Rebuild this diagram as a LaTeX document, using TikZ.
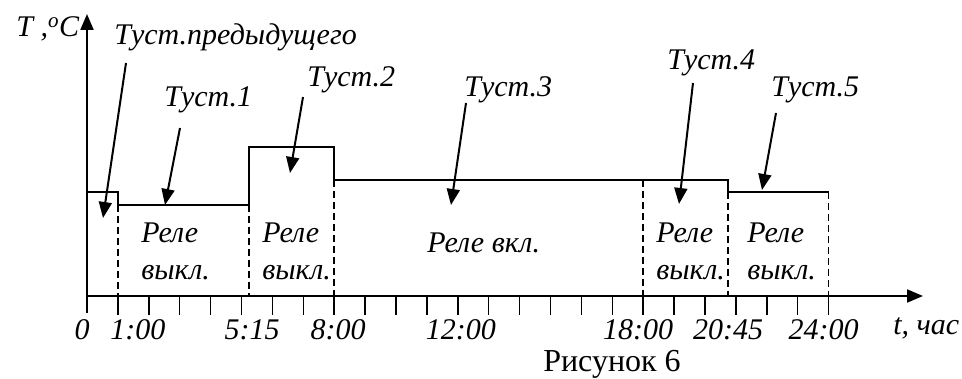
\documentclass[tikz,border=0pt]{standalone}
\usepackage{fontspec}
\setmainfont{Liberation Serif}
\usetikzlibrary{arrows.meta}
\newcommand*{\hr }{30.9}
\newcommand*{\xo }{87}
\newcommand*{\yo }{296}

\begin{document}
\begin{tikzpicture}[x=1pt, y=-1pt, line width=2pt,
    font=\itshape\fontsize{30}{36}\selectfont,
    tip/.style={-{Triangle[length=16pt,width=13pt]}}]
    \useasboundingbox (0,0) rectangle (962,379);
    % axes
    \draw [tip] (\xo,313) -- (\xo,14);
    \draw [tip] (\xo,\yo) -- (923,\yo);
    \foreach \h in {1,...,24}
        \draw [line width=1.5pt] (\xo+\h*\hr,\yo) -- (\xo+\h*\hr,315);
    % setpoint curve
    \draw (\xo,192) -- (\xo+\hr,192) -- (\xo+\hr,205) -- (\xo+5.25*\hr,205) -- (\xo+5.25*\hr,147)
        -- (\xo+8*\hr,147) -- (\xo+8*\hr,180) -- (\xo+20.75*\hr,180) -- (\xo+20.75*\hr,192) -- (\xo+24*\hr,192);
    \foreach \h/\y in {1/205, 5.25/205, 8/180, 18/180, 20.75/192, 24/192}
        \draw [line width=1.5pt, dash pattern=on 7pt off 4pt] (\xo+\h*\hr,\y) -- (\xo+\h*\hr,\yo);
    % time labels
    \foreach \h/\t/\s in {0/0/-5, 1/1:00/20, 5.25/5:15/3, 8/8:00/4, 12/12:00/3, 18/18:00/-5, 20.75/20:45/0, 24/24:00/-5}
        \node [anchor=base, inner sep=0pt] (h\h) at (\xo+\h*\hr+\s,340) {\t};
    \node [anchor=base west] (tl) at (889,335) {t, час};
    \node [anchor=base west] (Tl) at (12,37) {T ,\textsuperscript{o}C};
    % setpoint labels
    \node [anchor=base west] (s0) at (110,45) {Tуст.предыдущего};
    \node [anchor=base west] (s1) at (160,107) {Tуст.1};
    \node [anchor=base west] (s2) at (303,87) {Tуст.2};
    \node [anchor=base west] (s3) at (460,97) {Tуст.3};
    \node [anchor=base west] (s4) at (663,70) {Tуст.4};
    \node [anchor=base west] (s5) at (767,97) {Tуст.5};
    \coordinate (a0) at (126,63);  \coordinate (b0) at (103,218);
    \coordinate (a1) at (180,128); \coordinate (b1) at (165,205);
    \coordinate (a2) at (303,97);  \coordinate (b2) at (290,173);
    \coordinate (a3) at (466,103); \coordinate (b3) at (451,205);
    \coordinate (a4) at (693,83);  \coordinate (b4) at (679,204);
    \coordinate (a5) at (776,113); \coordinate (b5) at (762,190);
    \foreach \i in {0,...,5}
        \draw [tip] (a\i) -- (b\i);
    % relay state
    \foreach \n/\x in {1/137, 2/258, 4/652, 5/743} {
        \node [anchor=base west] (r\n) at (\x,243) {Реле};
        \node [anchor=base west] (v\n) at (\x,280) {выкл.};
    }
    \node [anchor=base west] (r3) at (423,253) {Реле вкл.};
    \node [anchor=base, inner sep=0pt, font=\upshape\fontsize{32}{40}\selectfont] (cap) at (612,372) {Рисунок 6};
\end{tikzpicture}
\end{document}
